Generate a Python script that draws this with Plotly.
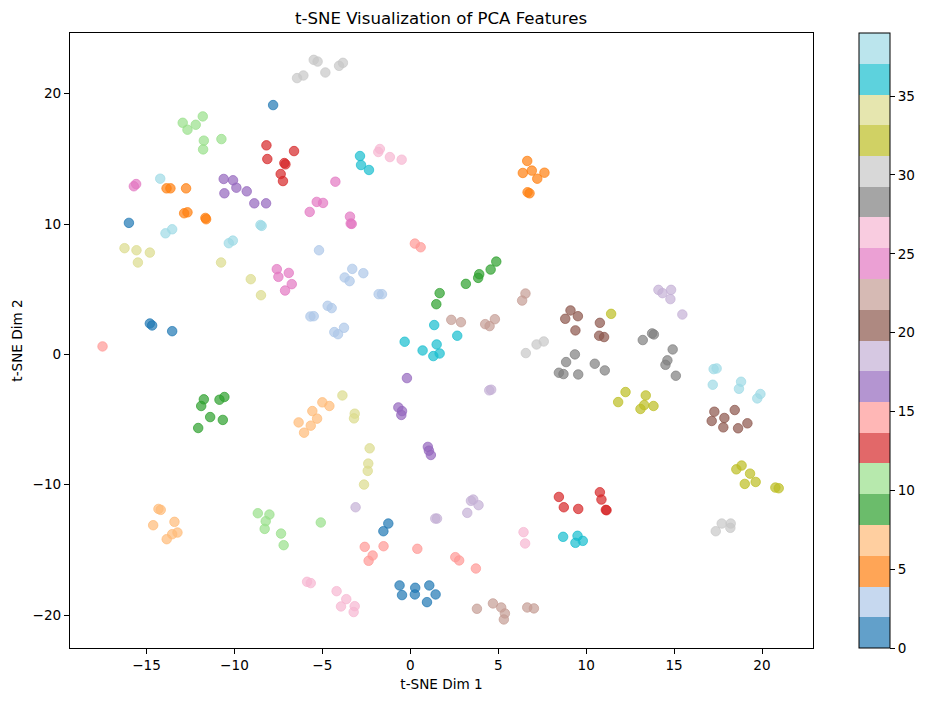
import plotly.graph_objects as go

chart_title = "t-SNE Visualization of PCA Features"
x_title = "t-SNE Dim 1"
y_title = "t-SNE Dim 2"
colorbar_ticks = [0, 5, 10, 15, 20, 25, 30, 35]
max_label = 39
point_alpha = 0.7

tab20 = [
    (31, 119, 180), (174, 199, 232), (255, 127, 14), (255, 187, 120),
    (44, 160, 44), (152, 223, 138), (214, 39, 40), (255, 152, 150),
    (148, 103, 189), (197, 176, 213), (140, 86, 75), (196, 156, 148),
    (227, 119, 194), (247, 182, 210), (127, 127, 127), (199, 199, 199),
    (188, 189, 34), (219, 219, 141), (23, 190, 207), (158, 218, 229),
]

labels = (
    [0] * 7 + [1] * 7 + [2] * 7 + [3] * 7 + [4] * 7 + [5] * 7 + [6] * 7 + [7] * 7
    + [8] * 7 + [9] * 7 + [10] * 7 + [11] * 7 + [12] * 7 + [13] * 7 + [14] * 7 + [15] * 4
    + [16] * 7 + [17] * 7 + [18] * 7 + [19] * 7 + [20] * 7 + [21] * 7 + [22] * 7 + [23] * 7
    + [24] * 7 + [25] * 7 + [26] * 7 + [27] * 6 + [28] * 7 + [29] * 7 + [30] * 7 + [31] * 7
    + [32] * 7 + [33] * 7 + [34] * 7 + [35] * 7 + [36] * 7 + [37] * 7 + [38] * 7 + [39] * 7
)

tsne_x = [
    -0.61, -0.47, 0.28, 0.26, 1.08, 1.44, 0.95,
    -7.80, -16.0, -14.81, -14.68, -13.54, -1.25, -1.53,
    -5.19, -3.30, -2.67, -3.73, -3.45, -1.80, -1.61,
    -4.70, -4.47, -5.68, -5.49, -3.77, -4.32, -4.11,
    -13.86, -13.64, -12.75, -12.86, -12.67, -11.65, -11.61,
    6.65, 6.40, 6.91, 7.22, 7.63, 6.67, 6.78,
    -14.32, -14.19, -13.41, -14.62, -13.24, -13.54, -13.85,
    -5.0, -4.60, -5.57, -5.30, -6.35, -5.66, -6.04,
    1.67, 1.48, 3.16, 3.92, 3.86, 4.57, 4.89,
    -11.74, -11.89, -11.38, -10.85, -10.57, -10.66, -12.06,
    -12.94, -12.67, -12.2, -11.80, -11.74, -11.78, -10.74,
    -8.67, -8.01, -8.22, -8.28, -7.35, -7.20, -5.09,
    -8.18, -8.13, -6.61, -7.16, -7.10, -7.37, -7.24,
    8.45, 8.73, 9.55, 10.78, 10.87, 11.12, 11.16,
    0.26, 0.59, -17.50, 2.56, 2.78, 3.73, 0.40,
    -2.59, -1.52, -2.14, -2.37,
    -10.61, -10.08, -9.89, -10.57, -9.30, -8.87, -8.20,
    -0.19, -0.68, -0.47, -0.51, 1.0, 1.06, 1.17,
    14.11, 14.34, 14.83, 14.79, 15.47, 4.49, 4.60,
    3.45, 3.58, 3.88, 3.24, 1.42, 1.52, -3.11,
    9.11, 8.81, 9.53, 9.39, 10.78, 10.74, 11.02,
    17.29, 18.45, 17.86, 17.14, 17.80, 18.64, 19.17,
    6.55, 6.36, 2.33, 2.88, 4.26, 4.51, 4.81,
    3.79, 4.70, 5.17, 5.38, 5.32, 6.65, 7.03,
    -4.26, -15.59, -15.72, -5.32, -4.96, -5.72, -3.43,
    -3.39, -3.33, -7.59, -7.50, -6.91, -6.74, -7.12,
    -1.73, -1.82, -1.16, -0.49, 6.44, 6.53, -5.87,
    -5.66, -4.19, -3.64, -3.16, -3.94, -3.22,
    13.75, 13.85, 13.22, 14.92, 14.62, 14.51, 15.10,
    9.36, 8.86, 8.45, 8.71, 9.55, 10.49, 11.06,
    -5.49, -5.27, -6.08, -6.44, -4.83, -4.05, -3.83,
    6.57, 7.18, 7.59, 17.37, 17.71, 18.22, 18.20,
    11.42, 12.24, 11.82, 13.39, 13.30, 13.09, 13.83,
    18.54, 18.84, 19.32, 19.64, 19.02, 20.76, 20.95,
    -16.25, -15.57, -14.81, -15.49, -10.76, -9.07, -8.49,
    -3.86, -3.16, -3.20, -2.31, -2.39, -2.42, -2.63,
    -2.86, -2.80, -2.35, 8.69, 9.51, 9.81, 9.39,
    2.67, 1.50, 1.67, 1.31, -0.32, 0.70, 1.36,
    -14.22, -13.54, -13.92, -8.52, -8.45, -10.09, -10.32,
    17.25, 17.42, 17.20, 18.81, 18.69, 19.91, 19.73,
]

tsne_y = [
    -17.73, -18.47, -17.91, -18.42, -17.73, -18.42, -19.01,
    19.13, 10.09, 2.37, 2.22, 1.78, -12.98, -13.57,
    7.99, 6.56, 6.23, 5.90, 5.62, 4.62, 4.62,
    3.73, 3.55, 2.91, 2.93, 2.04, 1.71, 1.55,
    12.74, 12.74, 12.74, 10.83, 10.90, 10.47, 10.37,
    14.84, 13.92, 14.10, 13.48, 13.94, 12.44, 12.36,
    -11.86, -11.93, -12.85, -13.11, -13.67, -13.80, -14.18,
    -3.68, -3.96, -4.35, -4.93, -5.22, -5.47, -6.01,
    4.70, 3.85, 5.41, 6.15, 5.87, 6.51, 7.12,
    -3.45, -3.96, -4.81, -3.48, -3.27, -5.03, -5.65,
    17.77, 17.24, 17.62, 18.26, 16.40, 15.73, 16.52,
    -12.19, -12.29, -12.80, -13.39, -13.75, -14.64, -12.90,
    16.04, 14.99, 15.60, 14.68, 14.58, 13.84, 13.30,
    -10.94, -11.73, -11.86, -10.58, -11.14, -11.93, -11.96,
    8.50, 8.22, 0.61, -15.56, -15.81, -16.43, -14.92,
    -14.77, -14.72, -15.43, -15.84,
    13.46, 13.36, 12.79, 12.36, 12.51, 11.59, 11.59,
    -1.82, -4.07, -4.35, -4.65, -7.10, -7.39, -7.72,
    4.95, 4.70, 4.95, 4.24, 3.06, -2.76, -2.71,
    -11.24, -11.14, -11.57, -12.16, -12.60, -12.60, -11.73,
    3.37, 2.73, 2.93, 1.84, 2.42, 1.43, 1.33,
    -4.40, -4.27, -4.88, -5.11, -5.60, -5.67, -5.29,
    4.67, 4.13, 2.65, 2.47, 2.32, 2.17, 2.70,
    -19.52, -19.11, -19.42, -19.88, -20.34, -19.42, -19.49,
    13.25, 13.07, 12.90, 11.70, 11.62, 10.93, 10.57,
    10.04, 10.01, 6.54, 5.95, 6.25, 5.39, 4.90,
    15.76, 15.53, 15.14, 14.94, -13.64, -14.51, -17.45,
    -17.55, -18.17, -18.78, -19.32, -19.34, -19.77,
    1.61, 1.53, 1.10, 0.38, -0.46, -0.80, -1.64,
    0.0, -0.59, -1.41, -1.51, -1.54, -0.72, -1.23,
    22.60, 22.47, 21.40, 21.20, 21.63, 22.14, 22.37,
    0.10, 0.76, 0.99, -13.57, -12.98, -12.98, -13.31,
    3.11, -2.89, -3.66, -3.15, -3.89, -4.19, -3.96,
    -8.82, -8.53, -9.15, -9.79, -9.94, -10.22, -10.27,
    8.15, 7.99, 7.81, 7.05, 7.05, 5.77, 4.54,
    -3.15, -4.55, -4.91, -7.21, -8.38, -8.94, -9.99,
    15.22, 14.53, 14.15, -14.0, -13.92, -14.31, -14.46,
    1.43, 0.76, 0.07, -0.13, 0.97, 0.30, 2.25,
    13.48, 9.60, 9.29, 9.93, 9.86, 8.73, 8.53,
    -1.13, -1.08, -2.33, -2.10, -2.64, -3.04, -3.38,
]


def step_scale(colors):
    n = len(colors)
    scale = []
    for i, c in enumerate(colors):
        scale.append([i / n, c])
        scale.append([(i + 1) / n, c])
    return scale


rgba = [f"rgba({r},{g},{b},{point_alpha})" for r, g, b in tab20]
blended = [
    "rgb({},{},{})".format(*[round(v * point_alpha + 255 * (1 - point_alpha)) for v in c])
    for c in tab20
]

font = dict(family="DejaVu Sans", size=13.6, color="black")

fig = go.Figure()
fig.add_trace(go.Scatter(
    x=tsne_x, y=tsne_y, mode="markers", showlegend=False,
    marker=dict(
        size=9.5, color=labels, colorscale=step_scale(rgba), cmin=0, cmax=max_label,
        showscale=False,
        line=dict(width=1, color=labels, colorscale=step_scale(rgba), cmin=0, cmax=max_label),
    ),
))
fig.add_trace(go.Scatter(
    x=[None], y=[None], mode="markers", showlegend=False, hoverinfo="skip",
    marker=dict(
        color=[0], colorscale=step_scale(blended), cmin=0, cmax=max_label, showscale=True,
        colorbar=dict(
            x=1.0625, xanchor="left", xpad=0, y=0.5, yanchor="middle", ypad=0,
            len=1, lenmode="fraction", thickness=31, thicknessmode="pixels",
            tickmode="array", tickvals=colorbar_ticks, ticks="outside", ticklen=5, tickwidth=1,
            tickcolor="black", tickfont=font, outlinecolor="black", outlinewidth=1,
        ),
    ),
))

axis_common = dict(
    showgrid=False, zeroline=False, showline=True, mirror=True, linecolor="black", linewidth=1,
    ticks="outside", ticklen=5, tickwidth=1, tickcolor="black", tickfont=font,
)
fig.update_layout(
    width=927, height=701, autosize=False, paper_bgcolor="white", plot_bgcolor="white",
    margin=dict(l=69.5, r=113.5, t=33, b=52.5, pad=0, autoexpand=False),
    title=dict(text=chart_title, x=441 / 927, xanchor="center", y=1 - 18 / 701, yanchor="middle",
               font=dict(family="DejaVu Sans", size=16.6, color="black")),
    xaxis=dict(axis_common, range=[-19.35, 22.9], tick0=-15, dtick=5,
               title=dict(text=x_title, font=font, standoff=7)),
    yaxis=dict(axis_common, range=[-22.53, 24.66], tick0=-20, dtick=10,
               title=dict(text=y_title, font=font, standoff=6)),
)
fig.write_html(
    "out.html",
    config={"displayModeBar": False},
    post_script=(
        "document.documentElement.style.overflow='hidden';"
        "document.body.style.margin='0';document.body.style.overflow='hidden';"
    ),
)
